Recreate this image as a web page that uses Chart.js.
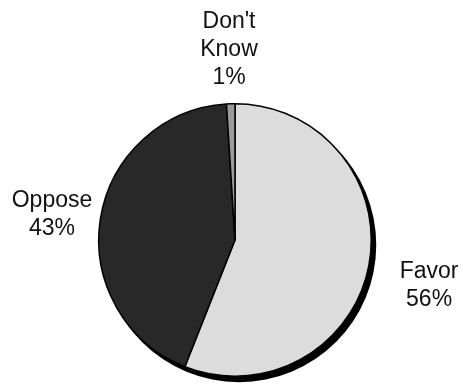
<!DOCTYPE html>
<html lang="en">
    <head>
        <meta charset="UTF-8" />
        <title>Favor / Oppose</title>
        <script src="https://cdn.jsdelivr.net/npm/chart.js"></script>
        <style>
            html, body { margin: 0; padding: 0; background: #fff; }
            #pie { display: block; }
        </style>
    </head>
    <body>
        <canvas id="pie" width="463" height="385"></canvas>

        <script>
            // Survey answers, clockwise from 12 o'clock
            const categories = ["Favor", "Oppose", "Don't Know"];
            const percents = [56, 43, 1];
            const sliceLabels = [["Favor", "56%"], ["Oppose", "43%"], ["Don't", "Know", "1%"]];

            const sliceColors = ["#dcdcdc", "#282828", "#9a9a9a"];
            // how far out each label sits (pie radii) and a small vertical nudge
            const labelDistance = [1.45, 1.36, 1.4];
            const labelNudgeY = [9, 4, 0];

            // black disc offset down-right, gives the pie its raised rim
            const rimShadow = {
                id: "rimShadow",
                beforeDatasetsDraw(chart) {
                    const arc = chart.getDatasetMeta(0).data[0];
                    if (!arc) return;
                    const ctx = chart.ctx;
                    ctx.save();
                    ctx.fillStyle = "#000";
                    ctx.beginPath();
                    ctx.arc(arc.x + 4, arc.y + 5, arc.outerRadius + 1, 0, Math.PI * 2);
                    ctx.fill();
                    ctx.restore();
                },
            };

            // slice names and percentages outside the pie
            const outsideLabels = {
                id: "outsideLabels",
                afterDatasetsDraw(chart) {
                    const ctx = chart.ctx;
                    const lineH = 28;
                    ctx.save();
                    ctx.font = '23px "Liberation Sans", Arial, sans-serif';
                    ctx.fillStyle = "#111";
                    ctx.textAlign = "center";
                    ctx.textBaseline = "middle";
                    chart.getDatasetMeta(0).data.forEach((arc, i) => {
                        const mid = (arc.startAngle + arc.endAngle) / 2;
                        const r = arc.outerRadius * labelDistance[i];
                        const x = arc.x + Math.cos(mid) * r;
                        const y = arc.y + Math.sin(mid) * r + labelNudgeY[i];
                        const lines = sliceLabels[i];
                        const top = y - ((lines.length - 1) * lineH) / 2;
                        lines.forEach((t, j) => ctx.fillText(t, x, top + j * lineH));
                    });
                    ctx.restore();
                },
            };

            const ctx = document.getElementById("pie").getContext("2d");
            new Chart(ctx, {
                type: "pie",
                data: {
                    labels: categories,
                    datasets: [
                        {
                            data: percents,
                            backgroundColor: sliceColors,
                            borderColor: "#000",
                            borderWidth: 1.5,
                        },
                    ],
                },
                options: {
                    responsive: false,
                    animation: false,
                    rotation: 0,
                    layout: {
                        padding: { top: 103, bottom: 8, left: 98, right: 91 },
                    },
                    plugins: {
                        legend: { display: false },
                        tooltip: { enabled: false },
                        title: { display: false },
                    },
                },
                plugins: [rimShadow, outsideLabels],
            });
        </script>
    </body>
</html>
